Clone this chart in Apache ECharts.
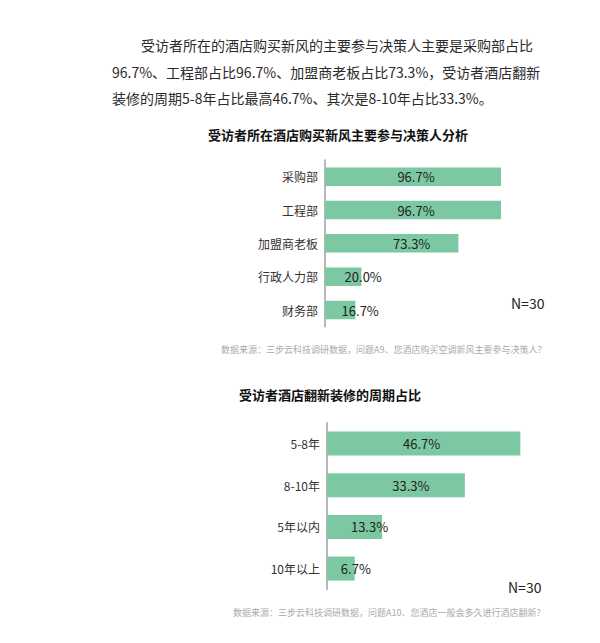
<!DOCTYPE html>
<html>
<head>
<meta charset="utf-8">
<script src="https://cdn.jsdelivr.net/npm/echarts@6/dist/echarts.min.js"></script>
<style>
  html, body { margin: 0; padding: 0; background: #fff; }
  #wrap { position: relative; width: 600px; height: 643px; overflow: hidden; }
  #intro {
    position: absolute; left: 112px; top: 32px; width: 440px;
    font-family: "Noto Sans CJK SC", "Noto Sans", sans-serif;
    font-size: 14px; line-height: 26.6px; color: #2b2b2b; white-space: nowrap;
  }
  #intro .indent { padding-left: 29px; }
  #chart { position: absolute; left: 0; top: 0; width: 600px; height: 643px; }
</style>
</head>
<body>
<div id="wrap">
  <div id="chart"></div>
  <div id="intro"><span class="indent">受访者所在的酒店购买新风的主要参与决策人主要是采购部占比</span><br>96.7%、工程部占比96.7%、加盟商老板占比73.3%，受访者酒店翻新<br>装修的周期5-8年占比最高46.7%、其次是8-10年占比33.3%。</div>
</div>
<script>
// ---- data ----
const title1 = '受访者所在酒店购买新风主要参与决策人分析';
const categories1 = ['采购部', '工程部', '加盟商老板', '行政人力部', '财务部'];
const values1 = [96.7, 96.7, 73.3, 20.0, 16.7];
const source1 = '数据来源：三步云科技调研数据，问题A9、您酒店购买空调新风主要参与决策人?';

const title2 = '受访者酒店翻新装修的周期占比';
const categories2 = ['5-8年', '8-10年', '5年以内', '10年以上'];
const values2 = [46.7, 33.3, 13.3, 6.7];
const source2 = '数据来源：三步云科技调研数据，问题A10、您酒店一般会多久进行酒店翻新?';

const sampleNote = 'N=30';

// ---- styles ----
const FONT = '"Noto Sans CJK SC", "Noto Sans", sans-serif';
const BAR = '#7CC8A2';

function labelledData(values, nearShift, farShift) {
  const mx = Math.max(...values);
  return values.map(v => ({
    value: v,
    label: { offset: [v >= 0.9 * mx ? nearShift : farShift, 0] }
  }));
}

const chart = echarts.init(document.getElementById('chart'), null, { renderer: 'svg' });

const catAxis = (gi, cats) => ({
  type: 'category', gridIndex: gi, data: cats, inverse: true,
  axisLine: { show: true, lineStyle: { color: '#a0a0a0', width: 1.5 } },
  axisTick: { show: false },
  axisLabel: { color: '#333', fontSize: 12, fontFamily: FONT, margin: 7 }
});
const valAxis = (gi, max) => ({
  type: 'value', gridIndex: gi, min: 0, max: max, show: false
});
const barSeries = (i, values, bw, nearShift, farShift) => ({
  type: 'bar', xAxisIndex: i, yAxisIndex: i,
  data: labelledData(values, nearShift, farShift),
  barWidth: bw,
  itemStyle: { color: BAR },
  label: {
    show: true, position: 'inside', color: '#222', fontSize: 13, fontFamily: FONT,
    formatter: p => p.value.toFixed(1) + '%'
  },
  silent: true, animation: false
});

chart.setOption({
  animation: false,
  title: [
    { text: title1, left: 208, top: 126, padding: 0,
      textStyle: { fontSize: 13, fontWeight: 'bold', color: '#111', fontFamily: FONT, lineHeight: 16 } },
    { text: title2, left: 239, top: 386, padding: 0,
      textStyle: { fontSize: 13, fontWeight: 'bold', color: '#111', fontFamily: FONT, lineHeight: 16 } }
  ],
  grid: [
    { left: 325, top: 160, width: 182, height: 166.7 },
    { left: 327, top: 422.7, width: 207, height: 166.7 }
  ],
  xAxis: [valAxis(0, 100), valAxis(1, 50)],
  yAxis: [catAxis(0, categories1), catAxis(1, categories2)],
  series: [
    barSeries(0, values1, 18.5, 3, 20),
    barSeries(1, values2, 24, -2, 15)
  ],
  graphic: [
    { type: 'text', left: 511, top: 296, style: { text: sampleNote, fontSize: 14, fill: '#222', fontFamily: FONT } },
    { type: 'text', left: 508, top: 580, style: { text: sampleNote, fontSize: 14, fill: '#222', fontFamily: FONT } },
    { type: 'text', left: 221, top: 345, style: { text: source1, fontSize: 9, fill: '#aaa', fontFamily: FONT } },
    { type: 'text', left: 233, top: 608, style: { text: source2, fontSize: 9, fill: '#aaa', fontFamily: FONT } }
  ]
});
</script>
</body>
</html>
